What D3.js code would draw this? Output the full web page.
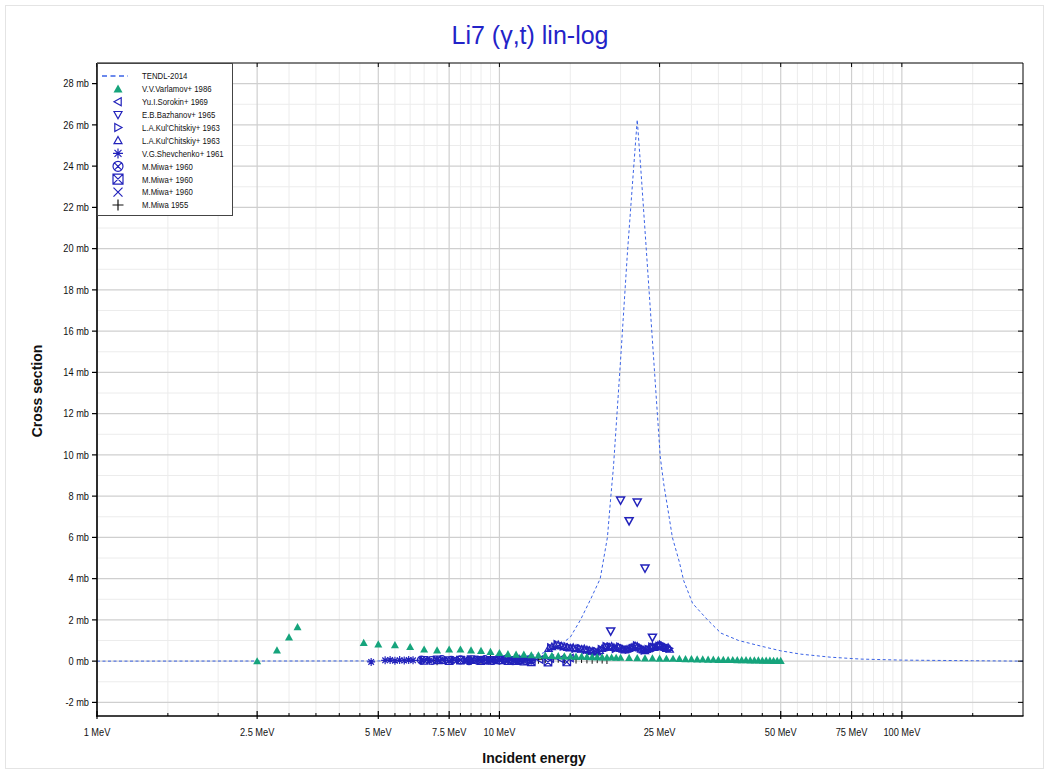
<!DOCTYPE html>
<html><head><meta charset="utf-8">
<script src="https://cdn.jsdelivr.net/npm/d3@7"></script>
<style>
html,body{margin:0;padding:0;background:#fff;}
svg text{font-family:"Liberation Sans",Arial,sans-serif;}
</style></head>
<body><svg id="c" width="1049" height="774"></svg>
<script>
// ---------------- DATA ----------------
const xMajorTicks = [1, 2.5, 5, 7.5, 10, 25, 50, 75, 100];
const xMajorLabels = ["1 MeV","2.5 MeV","5 MeV","7.5 MeV","10 MeV","25 MeV","50 MeV","75 MeV","100 MeV"];
const xMinorTicks = [1.5,2,3,3.5,4,4.5,5.5,6,6.5,7,8,8.5,9,9.5,15,20,30,35,40,45,55,60,65,70,80,85,90,95,150];
const yMajorTicks = [-2,0,2,4,6,8,10,12,14,16,18,20,22,24,26,28];
const yMinorTicks = [-1,1,3,5,7,9,11,13,15,17,19,21,23,25,27];

const tendlE  = [1, 5, 10, 12.65, 13.8, 15.0, 15.9, 16.85, 17.8, 18.55, 18.9, 19.2, 20.0, 20.8, 21.55, 22.0, 22.45, 23.2, 25.1, 25.6, 26.2, 26.9, 28.0, 28.7, 30.2, 32.9, 35.5, 39.3, 44.6, 50, 56, 66.6, 79, 100, 150, 200];
const tendlXS = [0, 0.01, 0.05, 0.35, 0.63, 1.16, 2.0, 3.0, 4.0, 6.0, 7.9, 9.4, 14.6, 19.8, 23.9, 26.25, 23.9, 19.8, 9.9, 8.6, 7.4, 6.0, 4.8, 3.9, 2.8, 2.0, 1.36, 1.0, 0.73, 0.5, 0.34, 0.19, 0.1, 0.05, 0.02, 0.0];

const varlamovE  = [2.5, 2.8, 3.0, 3.15, 4.6,
  5.0,5.5,6.0,6.5,7.0,7.5,8.0,8.5,9.0,9.5,10.0,10.5,11.0,11.5,12.0,12.5,13.0,13.5,14.0,14.5,15.0,15.5,16.0,16.5,17.0,17.5,18.0,18.5,19.0,19.5,
  20,21,22,23,24,25,26,27,28,29,30,31,32,33,34,35,36,37,38,39,40,41,42,43,44,45,46,47,48,49,50];
const varlamovXS = [0.0, 0.53, 1.16, 1.65, 0.89,
  0.82,0.78,0.69,0.57,0.53,0.57,0.57,0.53,0.50,0.45,0.40,0.34,0.32,0.32,0.29,0.28,0.27,0.26,0.25,0.24,0.23,0.22,0.22,0.21,0.20,0.20,0.19,0.18,0.18,0.17,
  0.17,0.16,0.15,0.14,0.14,0.13,0.12,0.12,0.11,0.10,0.10,0.09,0.09,0.08,0.08,0.07,0.07,0.06,0.06,0.05,0.05,0.05,0.04,0.04,0.04,0.03,0.03,0.03,0.02,0.02,0.02];

const sorokinE  = [10.2, 11.0, 11.8, 12.6, 13.4, 14.2, 15.0];
const sorokinXS = [0.12, 0.10, 0.14, 0.08, 0.12, 0.10, 0.15];

const bazhanovE  = [18.9, 20, 21, 22, 23, 24];
const bazhanovXS = [1.45, 7.8, 6.8, 7.7, 4.5, 1.15];

const kulRightE  = [13.4,13.9,14.4,14.9,15.4,15.9,16.4,16.9,17.4,17.9,18.4,18.9,19.4,19.9,20.4,20.9,21.4,21.9,22.4,22.9,23.4,23.9,24.4,24.9,25.4,25.9,26.4];
const kulRightXS = [0.66,0.82,0.72,0.68,0.60,0.62,0.54,0.50,0.48,0.58,0.72,0.70,0.60,0.70,0.60,0.56,0.62,0.76,0.68,0.52,0.58,0.70,0.64,0.74,0.78,0.68,0.62];

const kulUpE  = [13.25,13.5,13.75,14.0,14.25,14.5,14.75,15.0,15.25,15.5,15.75,16.0,16.25,16.5,16.75,17.0,17.25,17.5,17.75,18.0,18.25,18.5,18.75,19.0,19.25,19.5,19.75,20.0,20.25,20.5,20.75,21.0,21.25,21.5,21.75,22.0,22.25,22.5,22.75,23.0,23.25,23.5,23.75,24.0,24.25,24.5,24.75,25.0,25.25,25.5,25.75,26.0,26.25,26.5];
const kulUpXS = [0.62,0.70,0.76,0.80,0.74,0.70,0.66,0.64,0.66,0.62,0.60,0.58,0.60,0.55,0.52,0.48,0.46,0.44,0.52,0.62,0.66,0.70,0.68,0.72,0.66,0.64,0.66,0.62,0.58,0.54,0.58,0.62,0.66,0.70,0.74,0.72,0.64,0.58,0.54,0.50,0.56,0.62,0.68,0.72,0.66,0.70,0.76,0.80,0.74,0.70,0.66,0.62,0.66,0.58];

const shevchenkoE  = [4.8,5.2,5.35,5.5,5.65,5.8,5.95,6.1,6.4,6.7,7.0,7.3,7.6,7.9,8.2,8.5,8.8,9.1,9.4,9.7,10.0,10.5,11.0,11.5,12.0];
const shevchenkoXS = [-0.04,0.04,0.06,0.02,0.05,0.03,0.06,0.04,0.05,0.02,0.06,0.04,0.03,0.05,0.06,0.02,0.04,0.05,0.03,0.06,0.04,0.05,0.02,0.04,0.03];

const miwaCircE  = [6.4,6.8,7.2,7.6,8.0,8.4,8.8,9.2,9.6,10.0,10.4,10.8,11.2,11.6,12.0];
const miwaCircXS = [0.05,0.03,0.07,0.04,0.06,0.02,0.05,0.07,0.03,0.06,0.04,0.02,0.05,0.03,0.06];

const miwaBoxE  = [6.5,7.0,7.5,8.0,8.5,9.0,9.5,10.0,10.5,11.0,11.5,12.0,13.2,14.7];
const miwaBoxXS = [0.04,0.06,0.02,0.05,0.07,0.03,0.04,0.06,0.02,0.03,0.0,-0.03,-0.05,-0.04];

const miwaXE  = [6.6,7.1,7.7,8.3,8.9,9.5,10.1,10.7,11.3];
const miwaXXS = [0.06,0.04,0.07,0.03,0.05,0.06,0.04,0.07,0.05];

const miwa55E  = [7.0,8.5,9.0,9.5,10.0,10.5,11.0,11.5,12.0,12.5,13.0,13.5,14.0,14.5,15.0,15.5,16.0,16.5,17.0,17.5,18.0,18.5];
const miwa55XS = [0.02,0.05,0.04,0.08,0.06,0.10,0.08,0.12,0.10,0.09,0.13,0.11,0.14,0.12,0.15,0.10,0.13,0.11,0.09,0.12,0.10,0.08];

const legendLabels = ["TENDL-2014","V.V.Varlamov+ 1986","Yu.I.Sorokin+ 1969","E.B.Bazhanov+ 1965","L.A.Kul'Chitskiy+ 1963","L.A.Kul'Chitskiy+ 1963","V.G.Shevchenko+ 1961","M.Miwa+ 1960","M.Miwa+ 1960","M.Miwa+ 1960","M.Miwa 1955"];

// ---------------- LAYOUT ----------------
const W = 1049, H = 774;
const L = 97, R = 1023, T = 63, B = 716;
const GREEN = "#16a47c", BLUE = "#2222bb", TBLUE = "#3b63e6";
const NARROW = 0.84;

const svg = d3.select("#c");
svg.append("rect").attr("x",5.5).attr("y",5.5).attr("width",W-11).attr("height",H-11).attr("fill","#fff").attr("stroke","#e4e4e4");

const x = d3.scaleLog().domain([1, 200]).range([L, R]);
const y = d3.scaleLinear().domain([-2.66, 29]).range([B, T]);

// grid
const grid = svg.append("g");
grid.selectAll(".vmin").data(xMinorTicks).join("line")
  .attr("x1",d=>x(d)).attr("x2",d=>x(d)).attr("y1",T).attr("y2",B).attr("stroke","#ececec").attr("stroke-width",1);
grid.selectAll(".hmin").data(yMinorTicks).join("line")
  .attr("x1",L).attr("x2",R).attr("y1",d=>y(d)).attr("y2",d=>y(d)).attr("stroke","#ececec").attr("stroke-width",1);
grid.selectAll(".vmaj").data(xMajorTicks).join("line")
  .attr("x1",d=>x(d)).attr("x2",d=>x(d)).attr("y1",T).attr("y2",B).attr("stroke","#cfcfcf").attr("stroke-width",1.2);
grid.selectAll(".hmaj").data(yMajorTicks).join("line")
  .attr("x1",L).attr("x2",R).attr("y1",d=>y(d)).attr("y2",d=>y(d)).attr("stroke","#cfcfcf").attr("stroke-width",1.2);

// clip
svg.append("clipPath").attr("id","clip").append("rect").attr("x",L).attr("y",T).attr("width",R-L).attr("height",B-T);
const plot = svg.append("g").attr("clip-path","url(#clip)");

// TENDL line
const tendl = tendlE.map((e,i)=>[e,tendlXS[i]]);
plot.append("path").datum(tendl)
  .attr("d", d3.line().x(d=>x(d[0])).y(d=>y(d[1])))
  .attr("fill","none").attr("stroke",TBLUE).attr("stroke-width",1).attr("stroke-dasharray","3,2.5");

// marker shapes
const shapes = {
  triUp: s => `M0,${-s}L${s},${s*0.8}L${-s},${s*0.8}Z`,
  triLeft: s => `M${-s},0L${s*0.8},${-s}L${s*0.8},${s}Z`,
  triDown: s => `M${-s},${-s*0.8}L${s},${-s*0.8}L0,${s}Z`,
  triRight: s => `M${s},0L${-s*0.8},${-s}L${-s*0.8},${s}Z`,
  star: s => `M0,${-s}L0,${s}M${-s},0L${s},0M${-s*0.7},${-s*0.7}L${s*0.7},${s*0.7}M${-s*0.7},${s*0.7}L${s*0.7},${-s*0.7}`,
  circX: s => `M${s},0A${s},${s} 0 1,1 ${-s},0A${s},${s} 0 1,1 ${s},0M${-s*0.7},${-s*0.7}L${s*0.7},${s*0.7}M${-s*0.7},${s*0.7}L${s*0.7},${-s*0.7}`,
  boxX: s => `M${-s},${-s}H${s}V${s}H${-s}ZM${-s},${-s}L${s},${s}M${-s},${s}L${s},${-s}`,
  cross: s => `M${-s},${-s}L${s},${s}M${-s},${s}L${s},${-s}`,
  plus: s => `M0,${-s}L0,${s}M${-s},0L${s},0`
};

function drawSeries(E, XS, shape, size, fill, stroke, sw){
  const pts = E.map((e,i)=>[e, XS[i]]);
  plot.append("g").selectAll("path").data(pts).join("path")
    .attr("transform", d=>`translate(${x(d[0])},${y(d[1])})`)
    .attr("d", shapes[shape](size))
    .attr("fill", fill).attr("stroke", stroke).attr("stroke-width", sw);
}
drawSeries(miwa55E, miwa55XS, "plus", 4.5, "none", "#111", 1);
drawSeries(miwaXE, miwaXXS, "cross", 3.5, "none", BLUE, 1.2);
drawSeries(miwaBoxE, miwaBoxXS, "boxX", 3.8, "none", BLUE, 1.2);
drawSeries(miwaCircE, miwaCircXS, "circX", 4, "none", BLUE, 1.2);
drawSeries(shevchenkoE, shevchenkoXS, "star", 4, "none", BLUE, 1.2);
drawSeries(sorokinE, sorokinXS, "triLeft", 3.6, "none", BLUE, 1.3);
drawSeries(kulUpE, kulUpXS, "triUp", 3.6, "none", BLUE, 1.3);
drawSeries(kulRightE, kulRightXS, "triRight", 3.6, "none", BLUE, 1.3);
drawSeries(varlamovE, varlamovXS, "triUp", 4, GREEN, "none", 0);
drawSeries(bazhanovE, bazhanovXS, "triDown", 4, "none", BLUE, 1.5);

// axes frame
const ax = svg.append("g");
ax.append("line").attr("x1",L).attr("x2",R).attr("y1",T).attr("y2",T).attr("stroke","#000").attr("stroke-width",1);
ax.append("line").attr("x1",R).attr("x2",R).attr("y1",T).attr("y2",B).attr("stroke","#000").attr("stroke-width",1);
ax.append("line").attr("x1",L).attr("x2",L).attr("y1",T).attr("y2",B+0.8).attr("stroke","#000").attr("stroke-width",1.6);
ax.append("line").attr("x1",L-0.8).attr("x2",R+0.5).attr("y1",B).attr("y2",B).attr("stroke","#000").attr("stroke-width",1.6);

// x ticks
ax.selectAll(".xmt").data(xMajorTicks).join("line")
  .attr("x1",d=>x(d)).attr("x2",d=>x(d)).attr("y1",B-5).attr("y2",B+3).attr("stroke","#000").attr("stroke-width",1.2);
ax.selectAll(".xnt").data(xMinorTicks).join("line")
  .attr("x1",d=>x(d)).attr("x2",d=>x(d)).attr("y1",B-3).attr("y2",B).attr("stroke","#000").attr("stroke-width",1);
ax.selectAll(".xtop").data(xMajorTicks).join("line")
  .attr("x1",d=>x(d)).attr("x2",d=>x(d)).attr("y1",T).attr("y2",T+4).attr("stroke","#000").attr("stroke-width",1);
ax.selectAll(".xl").data(xMajorTicks).join("text")
  .attr("transform",d=>`translate(${x(d)},${B+20}) scale(${NARROW},1)`).attr("text-anchor","middle")
  .attr("font-size",11).attr("fill","#111").text((d,i)=>xMajorLabels[i]);

// y ticks
ax.selectAll(".ymt").data(yMajorTicks).join("line")
  .attr("x1",L-5).attr("x2",L).attr("y1",d=>y(d)).attr("y2",d=>y(d)).attr("stroke","#000").attr("stroke-width",1.2);
ax.selectAll(".ymr").data(yMajorTicks).join("line")
  .attr("x1",R-5).attr("x2",R).attr("y1",d=>y(d)).attr("y2",d=>y(d)).attr("stroke","#000").attr("stroke-width",1);
ax.selectAll(".yl").data(yMajorTicks).join("text")
  .attr("transform",d=>`translate(${L-8},${y(d)+3.8}) scale(${NARROW},1)`).attr("text-anchor","end")
  .attr("font-size",11).attr("fill","#111").text(d=>d+" mb");

// titles
svg.append("text").attr("x",530).attr("y",44).attr("text-anchor","middle")
  .attr("font-size",25).attr("fill","#2323c8")
  .text("Li7 (γ,t) lin-log");
svg.append("text").attr("x",534).attr("y",763).attr("text-anchor","middle")
  .attr("font-size",14).attr("font-weight","bold").attr("fill","#111")
  .text("Incident energy");
svg.append("text").attr("transform","translate(42,391) rotate(-90)").attr("text-anchor","middle")
  .attr("font-size",14).attr("font-weight","bold").attr("fill","#111")
  .text("Cross section");

// legend
const lg = svg.append("g");
lg.append("rect").attr("x",L+0.5).attr("y",T+0.5).attr("width",135).attr("height",152).attr("fill","#fff").attr("stroke","#444").attr("stroke-width",1);
const legendSpec = [
  {t:"line"},
  {s:"triUp", f:GREEN, c:"none", sz:4.5, w:0},
  {s:"triLeft", f:"none", c:BLUE, sz:4, w:1.2},
  {s:"triDown", f:"none", c:BLUE, sz:4, w:1.2},
  {s:"triRight", f:"none", c:BLUE, sz:4, w:1.2},
  {s:"triUp", f:"none", c:BLUE, sz:4, w:1.2},
  {s:"star", f:"none", c:BLUE, sz:5, w:1.2},
  {s:"circX", f:"none", c:BLUE, sz:5, w:1.2},
  {s:"boxX", f:"none", c:BLUE, sz:5, w:1.2},
  {s:"cross", f:"none", c:BLUE, sz:4.5, w:1.2},
  {s:"plus", f:"none", c:"#111", sz:5.5, w:1.2}
];
legendLabels.forEach((lab,i)=>{
  const yy = 76 + i*12.9;
  const sp = legendSpec[i];
  if(sp.t==="line"){
    lg.append("line").attr("x1",102).attr("x2",128).attr("y1",yy).attr("y2",yy)
      .attr("stroke",TBLUE).attr("stroke-width",1.5).attr("stroke-dasharray","5,3.5");
  } else {
    lg.append("path").attr("transform",`translate(118,${yy})`).attr("d",shapes[sp.s](sp.sz))
      .attr("fill",sp.f).attr("stroke",sp.c).attr("stroke-width",sp.w);
  }
  lg.append("text").attr("transform",`translate(142,${yy+3.3}) scale(0.82,1)`).attr("font-size",9.5).attr("fill","#111").text(lab);
});
</script></body></html>
